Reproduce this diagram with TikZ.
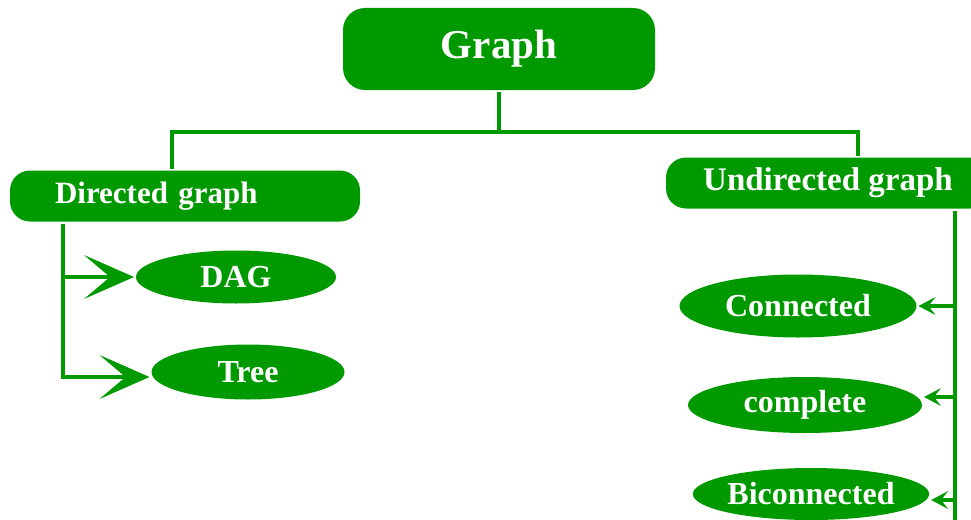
\documentclass[tikz,border=0pt]{standalone}
\usepackage{fontspec}
\setmainfont{Liberation Serif}
\usetikzlibrary{positioning,shapes.geometric,arrows.meta}
\definecolor{ggreen}{RGB}{0,153,0}
\tikzset{
  root/.style={fill=ggreen, text=white, rounded corners=22pt, minimum width=312pt, minimum height=82pt, font=\fontsize{41}{45}\selectfont\bfseries},
  kind/.style={fill=ggreen, text=white, rounded corners=20pt, minimum height=51pt, font=\fontsize{31}{36}\selectfont\bfseries},
  leaf/.style={ellipse, fill=ggreen, text=white, inner sep=0pt, font=\fontsize{32}{36}\selectfont\bfseries},
  bigtip/.style={-{Stealth[length=50pt 0 0, width=44pt 0 0, inset=26pt 0 0, line width=0pt]}},
  smalltip/.style={-{Stealth[length=17pt 0 0, width=18pt 0 0, inset=7pt 0 0, line width=0pt]}}
}
\begin{document}
\begin{tikzpicture}[node distance=95pt, auto, line width=4pt, draw=ggreen, ggreen]
            \useasboundingbox (0,0) rectangle (971pt,-519pt);
            \node(Graph) [root] at (499pt,-49pt) {Graph};
            \node(Directed) [kind, text width=260pt, align=left, inner xsep=45pt] at (185pt,-196pt) {Directed graph};
            \node(Undirected) [kind, minimum width=324pt, font=\fontsize{33}{36}\selectfont\bfseries] at (828pt,-183pt) {Undirected graph};
            \node(DAG) [leaf, minimum width=200pt, minimum height=53pt] at (236pt,-277pt) {DAG};
            \node(Tree) [leaf, minimum width=193pt, minimum height=55pt, below of=DAG, xshift=12pt] {Tree};
            \node(Connected) [leaf, minimum width=237pt, minimum height=63pt] at (798pt,-306pt) {Connected};
            \node(complete) [leaf, minimum width=234pt, minimum height=56pt, below of=Connected, node distance=99pt, xshift=7pt] {complete};
            \node(Biconnected) [leaf, minimum width=232pt, minimum height=52pt, below of=complete, node distance=89pt, xshift=6pt] {Biconnected};
            % tree lines
            \draw (Graph.south) -- ++(0,-40pt) coordinate (bus);
            \draw (bus) -| ([xshift=-13pt]Directed.north);
            \draw (bus) -| ([xshift=30pt]Undirected.north);
            \coordinate (dleft) at ([xshift=-122pt]Directed.south);
            \draw[bigtip] (dleft) |- (DAG.west);
            \draw[bigtip] (dleft) |- ([yshift=-5pt]Tree.west);
            \coordinate (uright) at ([xshift=127pt]Undirected.south);
            \draw (uright) -- ++(0,-330pt);
            \draw[smalltip] (uright |- Connected.east) -- (Connected.east);
            \draw[smalltip] (uright |- complete.east) ++(0,8pt) -- ([yshift=8pt]complete.east);
            \draw[smalltip] (uright |- Biconnected.east) ++(0,-6pt) -- ([yshift=-6pt]Biconnected.east);
            \end{tikzpicture}
\end{document}
